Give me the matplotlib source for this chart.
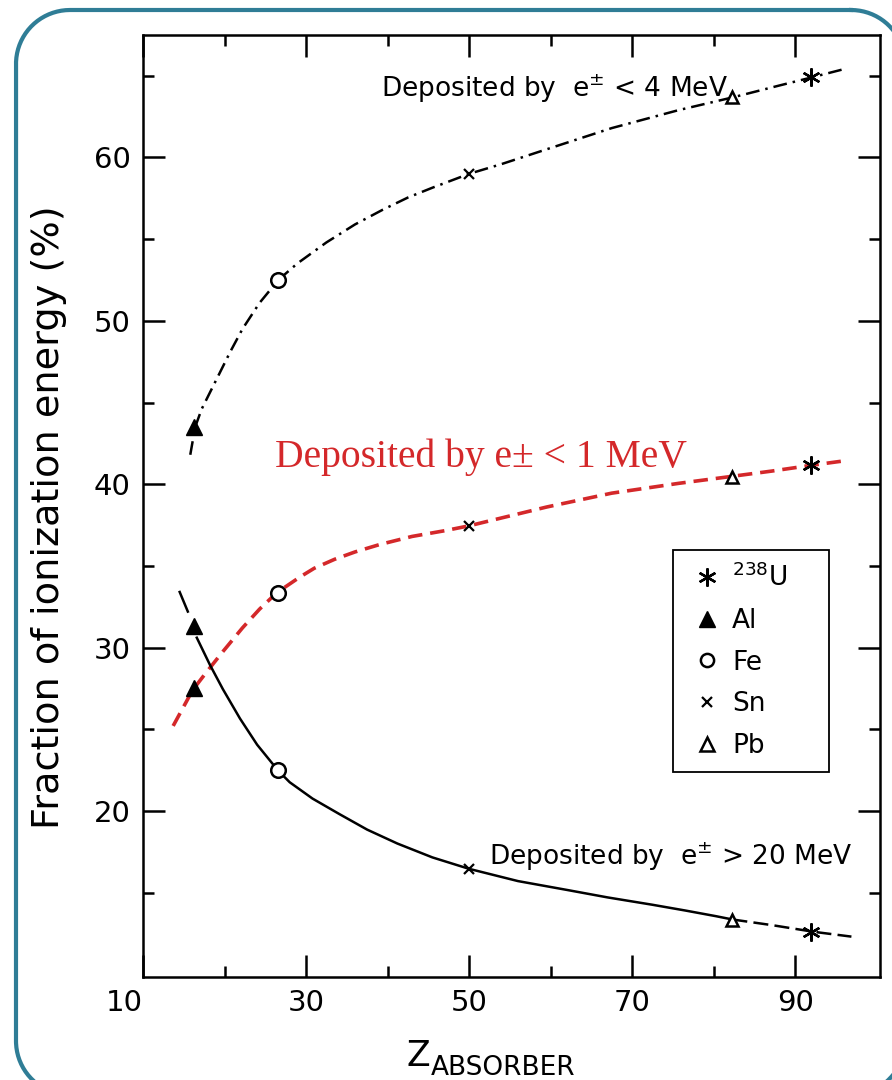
import matplotlib
matplotlib.use("Agg")
import matplotlib.pyplot as plt
import numpy as np
from matplotlib.lines import Line2D

# -----------------------------------------------
# marker positions (Z as drawn) for Al, Fe, Sn, Pb, U
mark_z = [16.3, 26.6, 50.0, 82.3, 92.0]
frac_lt4 = [43.5, 52.5, 59.0, 63.7, 64.9]
frac_lt1 = [27.5, 33.35, 37.45, 40.45, 41.15]
frac_gt20 = [31.3, 22.5, 16.45, 13.3, 12.6]

# fitted curves
z_lt4 = [15.8, 16.4, 17.2, 19.4, 20.7, 22.2, 24.3, 26.6, 28.9, 32.5, 36.0, 39.4,
         42.5, 45.5, 50.0, 54.0, 59.5, 67.5, 75.7, 82.5, 88.0, 92.0, 95.9]
y_lt4 = [41.8, 43.5, 44.6, 46.8, 48.1, 49.5, 51.1, 52.5, 53.5, 54.8, 55.9, 56.8,
         57.55, 58.15, 59.0, 59.6, 60.5, 61.8, 62.9, 63.7, 64.4, 64.9, 65.4]

z_lt1 = [13.7, 16.1, 17.8, 19.8, 22.2, 24.3, 26.4, 29.2, 31.0, 33.5, 36.0,
         39.0, 43.0, 47.0, 50.0, 53.3, 59.5, 67.5, 75.7, 81.8, 87.1, 91.9, 95.6]
y_lt1 = [25.2, 27.4, 28.5, 29.75, 31.2, 32.35, 33.35, 34.3, 34.85, 35.4, 35.85,
         36.3, 36.8, 37.15, 37.45, 37.85, 38.6, 39.45, 40.05, 40.45, 40.8, 41.15, 41.4]

z_gt20_head = [14.5, 15.5]
y_gt20_head = [33.4, 32.2]
z_gt20 = [16.6, 18.2, 19.8, 21.9, 24.0, 26.6, 28.0, 30.8, 34.1, 37.5, 41.2,
          45.5, 50.0, 56.0, 62.1, 67.0, 72.5, 76.5, 80.3, 82.3]
y_gt20 = [30.6, 28.95, 27.45, 25.65, 24.05, 22.45, 21.75, 20.75, 19.8, 18.85, 18.0,
          17.15, 16.45, 15.7, 15.15, 14.7, 14.25, 13.9, 13.55, 13.35]
z_gt20_tail = [82.3, 87.2, 92.2, 96.9]
y_gt20_tail = [13.35, 13.0, 12.6, 12.3]

elements = ["$^{238}$U\u2003\u2002", "Al", "Fe", "Sn", "Pb"]

RED = "#d4282a"
ASTER = (6, 2, 0)


# -----------------------------------------------
def rounded_rect(x0, y0, x1, y1, r, n=40):
    # outline of a rounded rectangle in a y-down pixel frame
    xs, ys = [], []
    for cx, cy, a0 in [(x1 - r, y0 + r, -90), (x1 - r, y1 - r, 0),
                       (x0 + r, y1 - r, 90), (x0 + r, y0 + r, 180)]:
        t = np.radians(np.linspace(a0, a0 + 90, n))
        xs.extend(cx + r * np.cos(t))
        ys.extend(cy + r * np.sin(t))
    xs.append(xs[0])
    ys.append(ys[0])
    return xs, ys


# -----------------------------------------------
def draw_markers(ax, ys):
    z_al, z_fe, z_sn, z_pb, z_u = mark_z
    y_al, y_fe, y_sn, y_pb, y_u = ys
    ax.plot([z_al], [y_al], marker="^", ms=11, color="k", ls="none", zorder=5)
    ax.plot([z_fe], [y_fe], marker="o", ms=10.5, mfc="white", mec="k", mew=1.8,
            ls="none", zorder=5)
    ax.plot([z_sn], [y_sn], marker="x", ms=7, mec="k", mew=1.6, ls="none", zorder=5)
    ax.plot([z_pb], [y_pb], marker="^", ms=9, mfc="white", mec="k", mew=1.8,
            ls="none", zorder=5)
    ax.plot([z_u], [y_u], marker=ASTER, ms=13, mec="k", mew=1.7, ls="none", zorder=5)


# -----------------------------------------------
def main():
    fig = plt.figure(figsize=(8.92, 10.8), dpi=100)

    # rounded border round the whole picture, drawn in pixel units
    bg = fig.add_axes([0, 0, 1, 1], zorder=-1)
    bg.set_xlim(0, 892)
    bg.set_ylim(1080, 0)
    bg.axis("off")
    bx, by = rounded_rect(16, 10, 905, 1095, 54)
    bg.plot(bx, by, color="#2f7d96", lw=3, clip_on=True)

    ax = fig.add_axes([0.1603, 0.0954, 0.8262, 0.8722])

    # curves
    ax.plot(z_lt4, y_lt4, color="k", lw=1.8, ls=(0, (5.5, 2.4, 1.0, 2.4)))
    ax.plot(z_lt1, y_lt1, color=RED, lw=2.6, ls=(0, (4.0, 2.2)))
    ax.plot(z_gt20_head, y_gt20_head, color="k", lw=1.8)
    ax.plot(z_gt20, y_gt20, color="k", lw=1.8)
    ax.plot(z_gt20_tail, y_gt20_tail, color="k", lw=1.8, ls=(0, (6, 2.5)))

    draw_markers(ax, frac_lt4)
    draw_markers(ax, frac_lt1)
    draw_markers(ax, frac_gt20)

    # annotations
    ax.text(39.25, 63.7, r"Deposited by  e$^{\pm}$ < 4 MeV", fontsize=19,
            va="baseline", ha="left")
    ax.text(52.5, 16.7, r"Deposited by  e$^{\pm}$ > 20 MeV", fontsize=19,
            va="baseline", ha="left")
    ax.text(26.15, 41.08, "Deposited by e\u00b1 < 1 MeV", fontsize=28.5,
            family="Liberation Serif", color=RED, va="baseline", ha="left")

    # axes
    ax.set_xlim(10, 100.4)
    ax.set_ylim(9.83, 67.5)
    ax.set_xticks([10, 30, 50, 70, 90])
    ax.set_xticks([20, 40, 60, 80], minor=True)
    ax.set_yticks([20, 30, 40, 50, 60])
    ax.set_yticks([15, 25, 35, 45, 55, 65], minor=True)
    ax.tick_params(which="both", direction="in", top=True, right=True,
                   width=1.8, labelsize=21)
    ax.tick_params(which="major", length=16)
    ax.tick_params(which="minor", length=8)
    ax.tick_params(axis="x", pad=9)
    ax.tick_params(axis="y", pad=9)
    for sp in ax.spines.values():
        sp.set_linewidth(1.8)
    ax.get_xticklabels()[0].set_horizontalalignment("right")

    ax.set_ylabel("Fraction of ionization energy (%)", fontsize=27.5, va="center")
    ax.yaxis.set_label_coords(-0.128, 0.488)

    fig.text(407 / 892, 1 - 1066 / 1080, "Z", fontsize=25, va="baseline", ha="left")
    fig.text(431 / 892, 1 - 1075 / 1080, "ABSORBER", fontsize=19,
             va="baseline", ha="left")

    # legend
    handles = [
        Line2D([], [], marker=ASTER, ms=13, mec="k", mew=1.7, ls="none"),
        Line2D([], [], marker="^", ms=12, color="k", ls="none"),
        Line2D([], [], marker="o", ms=9.5, mfc="white", mec="k", mew=1.8, ls="none"),
        Line2D([], [], marker="x", ms=7, mec="k", mew=1.6, ls="none"),
        Line2D([], [], marker="^", ms=10, mfc="white", mec="k", mew=1.8, ls="none"),
    ]
    leg = ax.legend(handles, elements, loc="upper left",
                    bbox_to_anchor=(0.719, 0.453), borderaxespad=0,
                    fontsize=19, frameon=True, fancybox=False,
                    edgecolor="k", framealpha=1, handlelength=1.6,
                    handletextpad=0.15, labelspacing=0.6, borderpad=0.5)
    leg.get_frame().set_linewidth(1.3)

    fig.savefig("out.png", dpi=100)


if __name__ == "__main__":
    main()
